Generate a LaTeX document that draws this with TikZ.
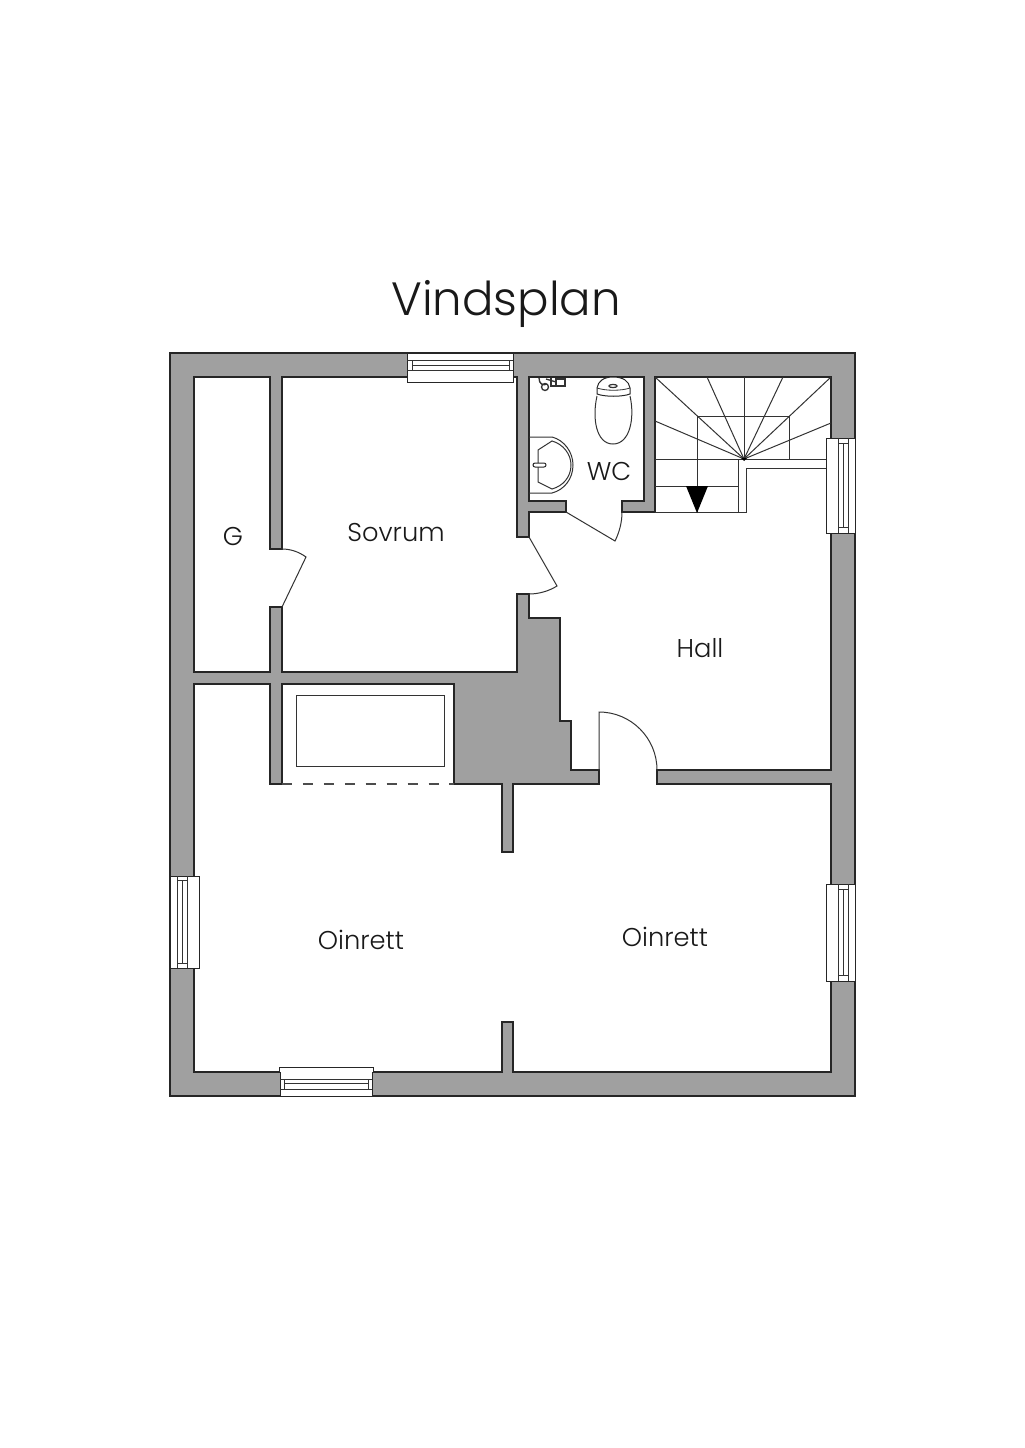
\documentclass[tikz,border=0pt]{standalone}
\usepackage{fontspec}
\setmainfont{Poppins Light}
\definecolor{wallgrey}{RGB}{160,160,160}
\tikzset{every picture/.style={line width=0.95pt}}
\tikzset{wall/.style={draw=black!85,fill=wallgrey},
  room/.style={draw=black!85,fill=white,line join=miter},
  fixture/.style={draw=black!85,fill=white,line width=0.75pt},
  thin/.style={draw=black!80,line width=0.75pt},
  label/.style={inner sep=0pt,font=\fontsize{19.3}{24}\selectfont,text=black!90}}

\begin{document}
\begin{tikzpicture}[x=0.75pt,y=0.75pt,yscale=-1,xscale=1]
\useasboundingbox (0,0) rectangle (1024,1448);

%Shape: Outer walls
\draw [wall] (170,353) rectangle (855,1096);

%Shape: Floor, all rooms joined through the door openings
\draw [room] (194,377) -- (270,377) -- (270,549) -- (282,549) -- (282,377) -- (517,377) -- (517,537) -- (529,537) -- (529,512) -- (566,512) -- (566,501) -- (529,501) -- (529,377) -- (644,377) -- (644,501) -- (622,501) -- (622,512) -- (655,512) -- (655,377) -- (831,377) -- (831,770) -- (657,770) -- (657,784) -- (831,784) -- (831,1072) -- (513,1072) -- (513,1022) -- (502,1022) -- (502,1072) -- (194,1072) -- (194,684) -- (270,684) -- (270,784) -- (282,784) -- (282,684) -- (454,684) -- (454,784) -- (502,784) -- (502,852) -- (513,852) -- (513,784) -- (599,784) -- (599,770) -- (571,770) -- (571,721) -- (560,721) -- (560,618) -- (529,618) -- (529,594) -- (517,594) -- (517,672) -- (282,672) -- (282,607) -- (270,607) -- (270,672) -- (194,672) -- cycle ;

%Shape: Alcove
\draw [thin] (296,695) rectangle (444,766) ;
\draw [draw=black!70,line width=0.9pt,dash pattern=on 7.7pt off 8pt] (282,784) -- (454,784) ;

%Door leaves and swings
\draw [thin] (282,549) .. controls (291,549) and (299,552) .. (306,557) -- (282,607) ;
\draw [thin] (529,594) .. controls (539,594) and (549,591) .. (557,586) -- (529,537) ;
\draw [thin] (622,512) .. controls (622,523) and (619,533) .. (615,541) -- (566,512) ;
\draw [thin] (599,770) -- (599,712) .. controls (631,712) and (657,738) .. (657,770) ;

%Stairs
\coordinate (fan) at (744,459);
\foreach \tx/\ty in {655/377,707/377,744/377,783/377,831/377,655/421,831/423}
  \draw [thin] (fan) -- (\tx,\ty) ;
\draw [thin] (697,459) -- (697,416) -- (789,416) -- (789,459) ;
\draw [thin] (655,459) -- (826,459) ;
\draw [thin] (655,486) -- (738,486) ;
\draw [thin] (697,459) -- (697,512) ;
\draw [thin] (738,459) -- (738,512) ;
\draw [thin] (655,512) -- (746,512) -- (746,468) -- (826,468) ;
\fill [black] (686,486) -- (708,486) -- (697,513) -- cycle ;
\fill [black] (741,458) -- (747,458) -- (744,461) -- cycle ;

%Window top
\draw [fixture] (407,353) -- (513,353) -- (513,382) -- (407,382) -- cycle ;
\draw [thin] (407,360) -- (513,360) ;
\draw [thin] (412,365) -- (509,365) ;
\draw [thin] (407,370) -- (513,370) ;
\draw [thin] (412,360) -- (412,370) ;
\draw [thin] (509,360) -- (509,370) ;
%Window bottom
\draw [fixture] (280,1096) -- (280,1072) -- (279,1072) -- (279,1067) -- (373,1067) -- (373,1072) -- (372,1072) -- (372,1096) -- cycle ;
\draw [thin] (280,1079) -- (372,1079) ;
\draw [thin] (284,1083) -- (368,1083) ;
\draw [thin] (280,1089) -- (372,1089) ;
\draw [thin] (284,1079) -- (284,1089) ;
\draw [thin] (368,1079) -- (368,1089) ;
%Window left
\draw [fixture] (170,876) rectangle (199,968) ;
\draw [thin] (177,876) -- (177,968) ;
\draw [thin] (182,880) -- (182,963) ;
\draw [thin] (187,876) -- (187,968) ;
\draw [thin] (177,880) -- (187,880) ;
\draw [thin] (177,963) -- (187,963) ;
%Window right upper
\draw [fixture] (826,438) rectangle (855,533) ;
\draw [thin] (838,438) -- (838,533) ;
\draw [thin] (843,443) -- (843,527) ;
\draw [thin] (848,438) -- (848,533) ;
\draw [thin] (838,443) -- (848,443) ;
\draw [thin] (838,527) -- (848,527) ;
%Window right lower
\draw [fixture] (826,884) rectangle (855,981) ;
\draw [thin] (838,884) -- (838,981) ;
\draw [thin] (843,889) -- (843,975) ;
\draw [thin] (848,884) -- (848,981) ;
\draw [thin] (838,889) -- (848,889) ;
\draw [thin] (838,975) -- (848,975) ;

%Toilet
\draw [thin] (597,396) .. controls (592,418) and (596,444) .. (613,444) .. controls (630,444) and (635,418) .. (630,396) ;
\draw [fixture] (597,394) -- (597,388) .. controls (598,381) and (604,377) .. (613,377) .. controls (623,377) and (629,381) .. (630,388) -- (630,394) .. controls (622,397) and (605,397) .. (597,394) -- cycle ;
\draw [thin,line width=0.6pt] (597,388) .. controls (606,391) and (621,391) .. (630,388) ;
\draw [thin,line width=0.9pt] (613,386) ellipse (4 and 1.6) ;

%Basin
\draw [thin] (529,437) -- (552,437) .. controls (564,440) and (573,452) .. (573,465) .. controls (573,479) and (564,490) .. (552,493) -- (529,493) ;
\draw [thin] (538,450) -- (552,441) .. controls (563,444) and (571,454) .. (571,465) .. controls (571,477) and (563,486) .. (552,489) -- (538,482) -- cycle ;
\draw [fixture] (535,463) -- (544,463) arc (-90:90:2) -- (535,467) arc (90:270:2) -- cycle ;

%Tap
\draw [thin,line width=1pt] (556,379) rectangle (565,386) ;
\draw [thin,line width=1pt] (539,378) .. controls (539,384) and (543,386) .. (547,384) ;
\draw [thin,line width=1pt] (546,379) -- (556,382) ;
\draw [thin,line width=1pt] (545,387) circle (3.5) ;
\draw [thin,line width=1pt] (551,378) -- (551,386) -- (556,386) ;

% Text Node
\node [inner sep=0pt,font=\fontsize{35}{42}\selectfont,text=black!90] (title) at (506,304) {Vindsplan};
\node [label] (sovrum) at (396,533) {Sovrum};
\node [label] (garderob) at (233,536) {G};
\node [label] (wc) at (609,471) {WC};
\node [label] (hall) at (700,648) {Hall};
\node [label] (oinrettv) at (361,940) {Oinrett};
\node [label] (oinretth) at (665,937) {Oinrett};

\end{tikzpicture}
\end{document}
